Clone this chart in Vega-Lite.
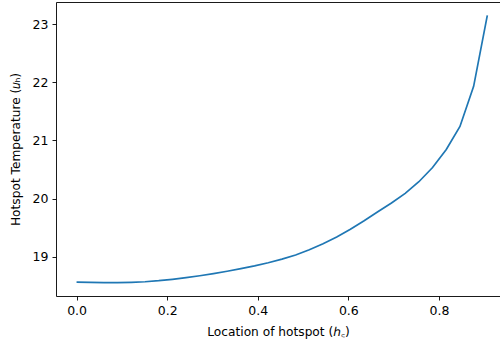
{
  "$schema": "https://vega.github.io/schema/vega-lite/v6.json",
  "autosize": {"type": "none"},
  "padding": {"left": 56, "top": 2, "right": 0, "bottom": 47},
  "width": 444,
  "height": 294,
  "background": "white",
  "config": {
    "view": {"stroke": null},
    "font": "DejaVu Sans",
    "axis": {
      "grid": false,
      "domainColor": "#000000",
      "domainWidth": 0.9,
      "tickColor": "#000000",
      "tickWidth": 0.9,
      "tickSize": 4,
      "labelColor": "#000000",
      "labelFont": "DejaVu Sans",
      "labelFontSize": 12.5,
      "titleFont": "DejaVu Sans",
      "titleFontSize": 12.2,
      "titleFontWeight": "normal",
      "titleColor": "#000000"
    }
  },
  "data": {
    "values": [
      {"h": 0.0000, "u": 18.565},
      {"h": 0.0302, "u": 18.560},
      {"h": 0.0605, "u": 18.555},
      {"h": 0.0907, "u": 18.555},
      {"h": 0.1209, "u": 18.560},
      {"h": 0.1512, "u": 18.570},
      {"h": 0.1814, "u": 18.588},
      {"h": 0.2116, "u": 18.612},
      {"h": 0.2418, "u": 18.640},
      {"h": 0.2721, "u": 18.673},
      {"h": 0.3023, "u": 18.710},
      {"h": 0.3325, "u": 18.750},
      {"h": 0.3628, "u": 18.795},
      {"h": 0.3930, "u": 18.843},
      {"h": 0.4232, "u": 18.897},
      {"h": 0.4535, "u": 18.958},
      {"h": 0.4837, "u": 19.030},
      {"h": 0.5139, "u": 19.121},
      {"h": 0.5442, "u": 19.223},
      {"h": 0.5744, "u": 19.341},
      {"h": 0.6046, "u": 19.474},
      {"h": 0.6349, "u": 19.619},
      {"h": 0.6651, "u": 19.773},
      {"h": 0.6953, "u": 19.925},
      {"h": 0.7256, "u": 20.090},
      {"h": 0.7558, "u": 20.290},
      {"h": 0.7860, "u": 20.535},
      {"h": 0.8163, "u": 20.845},
      {"h": 0.8465, "u": 21.240},
      {"h": 0.8767, "u": 21.930},
      {"h": 0.9069, "u": 23.150}
    ]
  },
  "layer": [
    {
      "mark": {"type": "line", "color": "#1f77b4", "strokeWidth": 1.7, "clip": true},
      "encoding": {
        "x": {
          "field": "h", "type": "quantitative",
          "scale": {"domain": [-0.0454, 0.9349], "nice": false, "zero": false},
          "axis": {"values": [0, 0.2, 0.4, 0.6, 0.8], "format": ".1f", "title": "Location of hotspot (ℎ꜀)", "labelPadding": 4, "titlePadding": 9}
        },
        "y": {
          "field": "u", "type": "quantitative",
          "scale": {"domain": [18.325, 23.38], "nice": false, "zero": false},
          "axis": {"values": [19, 20, 21, 22, 23], "format": "d", "title": "Hotspot Temperature (𝑢ₕ)", "labelPadding": 4, "titlePadding": 10}
        }
      }
    },
    {
      "mark": {"type": "line", "opacity": 0},
      "encoding": {
        "x": {
          "field": "h", "type": "quantitative",
          "axis": {"orient": "top", "labels": false, "ticks": false, "title": null, "domain": true}
        },
        "y": {"field": "u", "type": "quantitative"}
      }
    }
  ],
  "resolve": {"axis": {"x": "independent"}}
}
